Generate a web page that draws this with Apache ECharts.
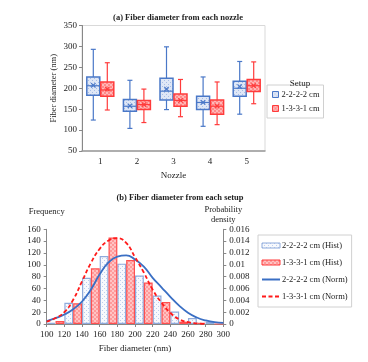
<!DOCTYPE html>
<html><head><meta charset="utf-8">
<script src="https://cdn.jsdelivr.net/npm/echarts@6/dist/echarts.min.js"></script>
<style>html,body{margin:0;padding:0;background:#fff}#c{width:368px;height:362px}</style>
</head><body><div id="c"></div>
<script>
// ---------- Data ----------
const nozzles = ['1', '2', '3', '4', '5'];
// [min, Q1, median, Q3, max, mean]
const box2222 = [
  [124, 183, 206, 227, 293, 207],
  [104, 145, 157, 173, 219, 158],
  [149, 172, 193, 224, 299, 198],
  [109, 149, 166, 181, 227, 166],
  [138, 181, 200, 217, 264, 204]
];
const box1331 = [
  [148, 181, 196, 215, 261, 198],
  [118, 149, 161, 171, 198, 161],
  [132, 157, 171, 186, 221, 171],
  [113, 138, 157, 172, 215, 157],
  [163, 192, 206, 221, 263, 206]
];
const bins = ['100-120', '120-140', '140-160', '160-180', '180-200', '200-220', '220-240', '240-260', '260-280', '280-300'];
const hist2222 = [2, 36, 78, 115, 102, 82, 48, 21, 10, 4];
const hist1331 = [5, 35, 94, 146, 108, 70, 37, 4, 2, 0];
const normX2222 = [100, 110, 120, 130, 140, 150, 160, 170, 180, 190, 200, 210, 220, 230, 240, 250, 260, 270, 280, 290, 300];
const norm2222 = [0.0005, 0.0010, 0.0016, 0.0025, 0.0038, 0.0058, 0.0084, 0.0104, 0.0114, 0.0116, 0.0109, 0.0097, 0.0078, 0.0062, 0.0046, 0.0031, 0.0019, 0.0011, 0.0006, 0.0003, 0.0002];
const normX1331 = [100, 110, 120, 130, 140, 150, 160, 170, 180, 190, 200, 210, 220, 230, 240, 250, 260, 270, 280];
const norm1331 = [0.0004, 0.0010, 0.0020, 0.0041, 0.0072, 0.0103, 0.0127, 0.0141, 0.0145, 0.0137, 0.0113, 0.0087, 0.0058, 0.0036, 0.0019, 0.0008, 0.0003, 0.0001, 0.0000];
const freqTicks = {min: 0, max: 160, interval: 20};
const densTicks = {min: 0, max: 0.016, interval: 0.002};
const diamTicks = {min: 100, max: 300, interval: 20};
const boxTicks = {min: 50, max: 350, interval: 50};

// ---------- Styles ----------
const FONT = '"Liberation Serif", "Times New Roman", serif';
const BLUE = '#4a78c8', RED = '#ff3b3b';
function makePattern(bg, fg, kind) {
  const c = document.createElement('canvas');
  c.width = 4; c.height = 4;
  const g = c.getContext('2d');
  g.fillStyle = bg; g.fillRect(0, 0, 4, 4);
  g.fillStyle = fg;
  if (kind === 'dots') { g.fillRect(0, 0, 1, 1); g.fillRect(2, 2, 1, 1); }
  else { g.fillRect(0, 0, 2, 2); g.fillRect(2, 2, 2, 2); }
  return {image: c, repeat: 'repeat'};
}
const boxFillBlue = makePattern('#dfe7f6', '#a8bde6', 'dots');
const boxFillRed = makePattern('#ffb8b8', '#ff8a8a', 'check');
const barFillBlue = makePattern('#f7f9fd', '#bccdee', 'dots');
const barFillRed = makePattern('#ffc4c4', '#ff9a9a', 'check');

function boxRenderer(offset, stroke, fill) {
  return function (params, api) {
    const c = api.value(0);
    const pMin = api.coord([c, api.value(1)]);
    const pQ1 = api.coord([c, api.value(2)]);
    const pMed = api.coord([c, api.value(3)]);
    const pQ3 = api.coord([c, api.value(4)]);
    const pMax = api.coord([c, api.value(5)]);
    const pMean = api.coord([c, api.value(6)]);
    const x = pMed[0] + offset, hw = 6.5, cap = 2.5, m = 2.2;
    const ls = {stroke: stroke, lineWidth: 1.2};
    return {type: 'group', children: [
      {type: 'line', shape: {x1: x, y1: pMax[1], x2: x, y2: pQ3[1]}, style: ls},
      {type: 'line', shape: {x1: x, y1: pQ1[1], x2: x, y2: pMin[1]}, style: ls},
      {type: 'line', shape: {x1: x - cap, y1: pMax[1], x2: x + cap, y2: pMax[1]}, style: ls},
      {type: 'line', shape: {x1: x - cap, y1: pMin[1], x2: x + cap, y2: pMin[1]}, style: ls},
      {type: 'rect', shape: {x: x - hw, y: pQ3[1], width: hw * 2, height: pQ1[1] - pQ3[1]},
        style: {fill: fill, stroke: stroke, lineWidth: 1.5}},
      {type: 'line', shape: {x1: x - hw, y1: pMed[1], x2: x + hw, y2: pMed[1]}, style: {stroke: stroke, lineWidth: 1.2}},
      {type: 'line', shape: {x1: x - m, y1: pMean[1] - m, x2: x + m, y2: pMean[1] + m}, style: {stroke: stroke, lineWidth: 1.2}},
      {type: 'line', shape: {x1: x - m, y1: pMean[1] + m, x2: x + m, y2: pMean[1] - m}, style: {stroke: stroke, lineWidth: 1.2}}
    ]};
  };
}
function boxData(arr) { return arr.map((d, i) => [i].concat(d)); }

const axisTxt = {fontFamily: FONT, fontSize: 9, color: '#222'};
const chart = echarts.init(document.getElementById('c'), null, {renderer: 'canvas'});
chart.setOption({
  animation: false,
  backgroundColor: '#fff',
  textStyle: {fontFamily: FONT},
  title: [
    {text: '(a) Fiber diameter from each nozzle', left: 173, top: 8, textAlign: 'center',
      textStyle: {fontFamily: FONT, fontSize: 8.5, fontWeight: 'bold', color: '#222'}},
    {text: '(b) Fiber diameter from each setup', left: 175, top: 188, textAlign: 'center',
      textStyle: {fontFamily: FONT, fontSize: 8.5, fontWeight: 'bold', color: '#222'}},
    {text: 'Setup', left: 295, top: 74, textAlign: 'center',
      textStyle: {fontFamily: FONT, fontSize: 9, fontWeight: 'normal', color: '#222'}}
  ],
  legend: [
    {orient: 'vertical', left: 267, top: 85, width: 57, padding: [5, 4, 5, 5], itemGap: 5,
      borderColor: '#d0d0d0', borderWidth: 1, itemWidth: 6, itemHeight: 6,
      textStyle: {fontFamily: FONT, fontSize: 8.5, color: '#222', padding: [0, 0, 0, -2]},
      data: [
        {name: '2-2-2-2 cm', icon: 'rect', itemStyle: {color: boxFillBlue, borderColor: BLUE, borderWidth: 1}},
        {name: '1-3-3-1 cm', icon: 'rect', itemStyle: {color: boxFillRed, borderColor: RED, borderWidth: 1}}
      ]},
    {orient: 'vertical', left: 258, top: 235, width: 89, padding: [6, 4, 6, 3], itemGap: 8,
      borderColor: '#d0d0d0', borderWidth: 1, itemWidth: 18, itemHeight: 5,
      textStyle: {fontFamily: FONT, fontSize: 8.5, color: '#222', padding: [0, 0, 0, -3]},
      data: [
        {name: '2-2-2-2 cm (Hist)', icon: 'rect', itemStyle: {color: barFillBlue, borderColor: '#8eaadb', borderWidth: 1}},
        {name: '1-3-3-1 cm (Hist)', icon: 'rect', itemStyle: {color: barFillRed, borderColor: RED, borderWidth: 1}},
        {name: '2-2-2-2 cm (Norm)', itemStyle: {opacity: 0}},
        {name: '1-3-3-1 cm (Norm)', itemStyle: {opacity: 0}}
      ]}
  ],
  grid: [
    {left: 82, top: 25.5, width: 183, height: 125.5, show: true, borderColor: '#d9d9d9', borderWidth: 1},
    {left: 46.7, top: 229.3, width: 176.6, height: 94.7}
  ],
  xAxis: [
    {type: 'category', gridIndex: 0, data: nozzles, boundaryGap: true,
      name: 'Nozzle', nameLocation: 'middle', nameGap: 20, nameTextStyle: {fontFamily: FONT, fontSize: 9, color: '#222'},
      axisLine: {lineStyle: {color: '#999', width: 1.5}}, axisTick: {show: false},
      axisLabel: Object.assign({margin: 6}, axisTxt)},
    {type: 'category', gridIndex: 1, position: 'top', data: bins, show: false, boundaryGap: true},
    {type: 'value', gridIndex: 1, position: 'bottom', min: diamTicks.min, max: diamTicks.max, interval: diamTicks.interval,
      name: 'Fiber diameter (nm)', nameLocation: 'middle', nameGap: 20,
      nameTextStyle: {fontFamily: FONT, fontSize: 9, color: '#222'},
      axisLine: {lineStyle: {color: '#888', width: 1}}, axisTick: {show: true, length: 3, lineStyle: {color: '#888'}},
      splitLine: {show: false}, axisLabel: Object.assign({margin: 6}, axisTxt)}
  ],
  yAxis: [
    {type: 'value', gridIndex: 0, min: boxTicks.min, max: boxTicks.max, interval: boxTicks.interval,
      name: 'Fiber diameter (nm)', nameLocation: 'middle', nameGap: 24, nameRotate: 90,
      nameTextStyle: {fontFamily: FONT, fontSize: 8.5, color: '#222'},
      axisLine: {show: true, lineStyle: {color: '#888'}}, axisTick: {show: true, length: 3, lineStyle: {color: '#888'}},
      splitLine: {show: false}, axisLabel: Object.assign({margin: 5}, axisTxt)},
    {type: 'value', gridIndex: 1, position: 'left', min: freqTicks.min, max: freqTicks.max, interval: freqTicks.interval,
      name: 'Frequency', nameLocation: 'end', nameGap: 13, nameTextStyle: {fontFamily: FONT, fontSize: 8.5, color: '#222', align: 'center'},
      axisLine: {show: true, lineStyle: {color: '#888'}}, axisTick: {show: true, length: 3, lineStyle: {color: '#888'}},
      splitLine: {show: false}, axisLabel: Object.assign({margin: 6}, axisTxt)},
    {type: 'value', gridIndex: 1, position: 'right', min: densTicks.min, max: densTicks.max, interval: densTicks.interval,
      name: 'Probability\ndensity', nameLocation: 'end', nameGap: 4,
      nameTextStyle: {fontFamily: FONT, fontSize: 8.5, color: '#222', align: 'center', lineHeight: 10},
      axisLine: {show: true, lineStyle: {color: '#888'}}, axisTick: {show: true, length: 3, lineStyle: {color: '#888'}},
      splitLine: {show: false}, axisLabel: Object.assign({margin: 6}, axisTxt)}
  ],
  series: [
    {name: '2-2-2-2 cm', type: 'custom', xAxisIndex: 0, yAxisIndex: 0, renderItem: boxRenderer(-7, BLUE, boxFillBlue),
      data: boxData(box2222), encode: {x: 0, y: [1, 2, 3, 4, 5, 6]}, itemStyle: {color: BLUE}, z: 3},
    {name: '1-3-3-1 cm', type: 'custom', xAxisIndex: 0, yAxisIndex: 0, renderItem: boxRenderer(7, RED, boxFillRed),
      data: boxData(box1331), encode: {x: 0, y: [1, 2, 3, 4, 5, 6]}, itemStyle: {color: RED}, z: 3},
    {name: '2-2-2-2 cm (Hist)', type: 'bar', xAxisIndex: 1, yAxisIndex: 1, data: hist2222,
      barGap: '0%', barCategoryGap: '0%',
      itemStyle: {color: barFillBlue, borderColor: '#8eaadb', borderWidth: 1.2}},
    {name: '1-3-3-1 cm (Hist)', type: 'bar', xAxisIndex: 1, yAxisIndex: 1, data: hist1331,
      barGap: '0%', barCategoryGap: '0%',
      itemStyle: {color: barFillRed, borderColor: '#ff5050', borderWidth: 1.2}},
    {name: '2-2-2-2 cm (Norm)', type: 'line', xAxisIndex: 2, yAxisIndex: 2, smooth: true, symbol: 'none',
      data: normX2222.map((x, i) => [x, norm2222[i]]), lineStyle: {color: '#3a6fc4', width: 1.8}, itemStyle: {color: '#3a6fc4'}, z: 5},
    {name: '1-3-3-1 cm (Norm)', type: 'line', xAxisIndex: 2, yAxisIndex: 2, smooth: true, symbol: 'none',
      data: normX1331.map((x, i) => [x, norm1331[i]]), lineStyle: {color: '#ff1a1a', width: 1.8, type: [4, 2.5]}, itemStyle: {color: '#ff1a1a'}, z: 6}
  ]
});
</script></body></html>
